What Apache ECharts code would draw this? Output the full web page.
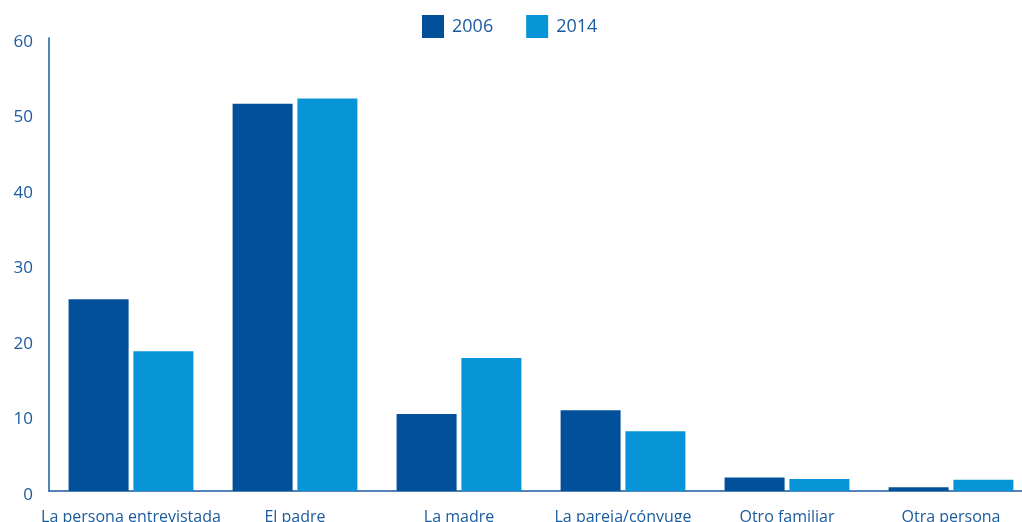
<!DOCTYPE html>
<html>
<head>
<meta charset="utf-8">
<script src="https://cdn.jsdelivr.net/npm/echarts@6/dist/echarts.min.js"></script>
<style>
  html, body { margin: 0; padding: 0; background: #fff; }
  #chart { width: 1022px; height: 522px; }
</style>
</head>
<body>
<div id="chart"></div>
<script>
// categorías del eje x
const categories = ['La persona entrevistada', 'El padre', 'La madre', 'La pareja/cónyuge', 'Otro familiar', 'Otra persona']
const values2006 = [25.4, 51.3, 10.2, 10.7, 1.8, 0.5]
const values2014 = [18.5, 52.0, 17.6, 7.9, 1.6, 1.5]
const yTicks = [0, 10, 20, 30, 40, 50, 60]

const textColor = '#1b5a9e'
const fontFamily = '"Open Sans", "Noto Sans", sans-serif'

const chart = echarts.init(document.getElementById('chart'))
chart.setOption({
  animation: false,
  legend: {
    top: 15,
    left: 422,
    padding: 0,
    itemWidth: 22,
    itemHeight: 23,
    itemGap: 33,
    icon: 'rect',
    textStyle: { color: textColor, fontSize: 18, fontFamily: fontFamily, padding: [2, 0, 0, 3] },
    data: ['2006', '2014']
  },
  grid: {
    top: 38,
    bottom: 31,
    left: 49,
    width: 984,
    outerBoundsMode: 'none'
  },
  xAxis: {
    type: 'category',
    data: categories,
    axisLine: { lineStyle: { color: textColor, width: 1.5 } },
    axisTick: { show: false },
    axisLabel: {
      interval: 0,
      margin: 18,
      color: textColor,
      fontSize: 16,
      fontFamily: fontFamily
    }
  },
  yAxis: {
    type: 'value',
    min: yTicks[0],
    max: yTicks[yTicks.length - 1],
    interval: 10,
    splitLine: { show: false },
    axisLine: { show: true, lineStyle: { color: textColor, width: 1.5 } },
    axisTick: { show: false },
    axisLabel: {
      margin: 16,
      verticalAlign: 'top',
      lineHeight: 8,
      color: textColor,
      fontSize: 17,
      fontFamily: fontFamily
    }
  },
  series: [
    {
      name: '2006',
      type: 'bar',
      data: values2006,
      barWidth: 60,
      barGap: '8%',
      itemStyle: { color: '#02509a' }
    },
    {
      name: '2014',
      type: 'bar',
      data: values2014,
      barWidth: 60,
      barGap: '8%',
      itemStyle: { color: '#0895d8' }
    }
  ]
})
</script>
</body>
</html>
